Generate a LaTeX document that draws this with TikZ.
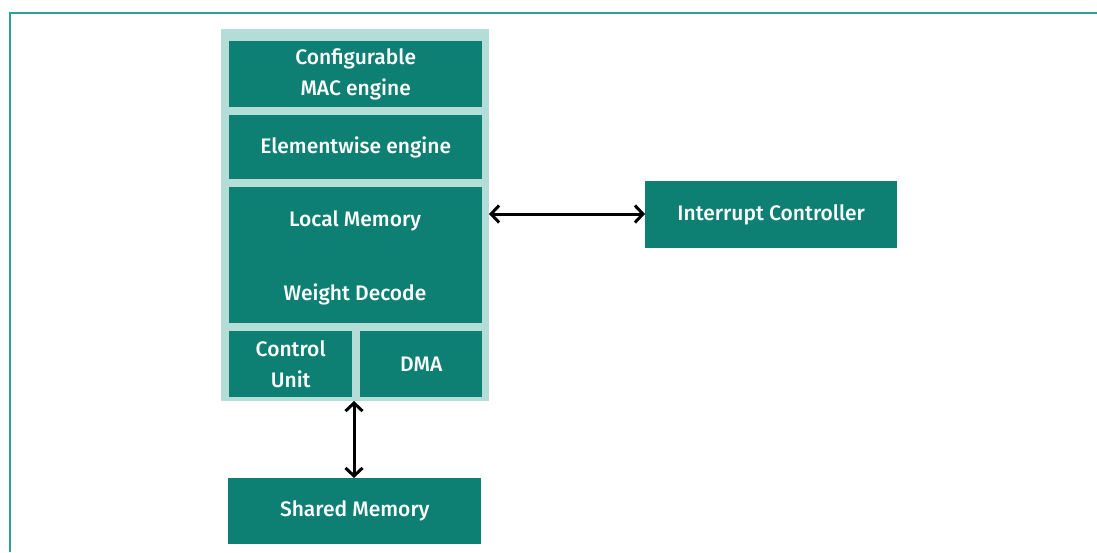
\documentclass[tikz,border=0pt]{standalone}
\usepackage{fontspec}
\setmainfont{Fira Sans}[UprightFont=* Medium]
\usetikzlibrary{arrows.meta}
\definecolor{blockteal}{HTML}{0E8073}
\definecolor{paleteal}{HTML}{B5DDD8}
\definecolor{frameteal}{HTML}{2E9E98}
\newcommand{\blockfont}{\fontsize{21}{31.5}\selectfont}
\tikzset{
  unit/.style={fill=blockteal, draw=none, text=white, align=center,
    font=\blockfont, inner sep=0pt},
  label/.style={text=white, font=\blockfont, inner sep=0pt},
  barb/.tip={Straight Barb[length=8pt,width=17pt,line width=3pt]},
  link/.style={draw=black, line width=3pt, barb-barb}
}
\begin{document}
\begin{tikzpicture}[x=1pt,y=-1pt]
  \useasboundingbox (0,0) rectangle (1097,552);
  % open frame along the top and left edge
  \draw[frameteal, line width=1.2pt] (10,552) -- (10,13) -- (1097,13);
  % accelerator enclosure
  \fill[paleteal] (221,29) rectangle (489,401);
  \node[unit, minimum width=253pt, minimum height=66pt, anchor=north west] (mac) at (229,41) {Configurable\\MAC engine};
  \node[unit, minimum width=253pt, minimum height=64pt, anchor=north west] (elem) at (229,115) {Elementwise engine};
  \node[unit, minimum width=253pt, minimum height=136pt, anchor=north west] (mem) at (229,187) {};
  \node[label] (local) at (355,221) {Local Memory};
  \node[label] (wdec) at (355,294) {Weight Decode};
  \node[unit, minimum width=123pt, minimum height=66pt, anchor=north west] (ctrl) at (229,331) {Control\\Unit};
  \node[unit, minimum width=122pt, minimum height=66pt, anchor=north west] (dma) at (360,331) {DMA};
  % external blocks
  \node[unit, minimum width=252pt, minimum height=67pt, anchor=north west] (irq) at (645,181) {Interrupt Controller};
  \node[unit, minimum width=253pt, minimum height=66pt, anchor=north west] (shm) at (228,478) {Shared Memory};
  % connectors
  \coordinate (encR) at (489,214);
  \coordinate (encB) at (354,401);
  \draw[link] (encR) -- (irq.west |- encR);
  \draw[link] (encB) -- (encB |- shm.north);
\end{tikzpicture}
\end{document}
